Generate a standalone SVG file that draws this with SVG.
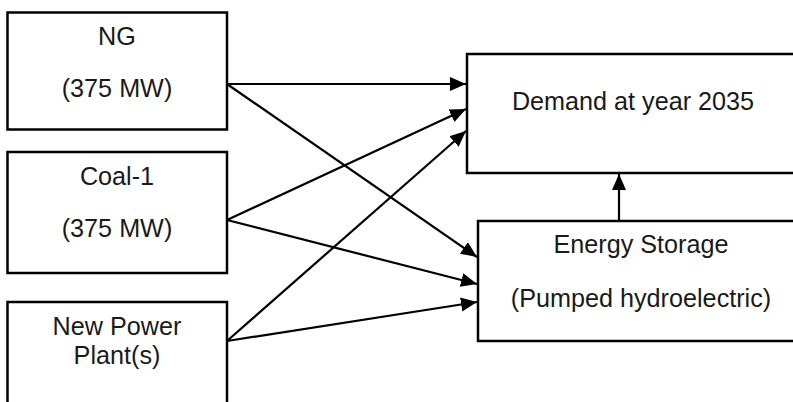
<svg xmlns="http://www.w3.org/2000/svg" width="793" height="402" viewBox="0 0 793 402">
<style>
.box{fill:#fff;stroke:#000;stroke-width:2.5}
.t{font-family:"Liberation Sans",Arial,sans-serif;font-size:25.2px;fill:#1a1a1a;text-anchor:middle}
.c{stroke:#000;stroke-width:2.2;fill:none;marker-end:url(#ah)}
</style>
<defs>
<marker id="ah" markerUnits="userSpaceOnUse" markerWidth="17" markerHeight="15" refX="16" refY="7" orient="auto">
<path d="M0,0 L16,7 L0,14 Z" fill="#000"/>
</marker>
</defs>
<rect width="793" height="402" fill="#fff"/>
<g id="ng">
<rect class="box" x="7.5" y="12.5" width="219.5" height="117"/>
<text class="t" x="117" y="45">NG</text>
<text class="t" x="117" y="97">(375 MW)</text>
</g>
<g id="coal1">
<rect class="box" x="7.5" y="152" width="219.5" height="121"/>
<text class="t" x="117" y="185">Coal-1</text>
<text class="t" x="117" y="237">(375 MW)</text>
</g>
<g id="newpower">
<rect class="box" x="7.5" y="302" width="219.5" height="130"/>
<text class="t" x="117" y="335">New Power</text>
<text class="t" x="117" y="364">Plant(s)</text>
</g>
<g id="demand">
<rect class="box" x="467" y="54" width="332" height="119"/>
<text class="t" x="633" y="110">Demand at year 2035</text>
</g>
<g id="storage">
<rect class="box" x="478" y="221" width="326" height="120"/>
<text class="t" x="641" y="253">Energy Storage</text>
<text class="t" x="641" y="307">(Pumped hydroelectric)</text>
</g>
<g id="connectors">
<line class="c" x1="227" y1="84" x2="466" y2="84"/>
<line class="c" x1="227" y1="84" x2="477" y2="257"/>
<line class="c" x1="227" y1="220" x2="466" y2="109"/>
<line class="c" x1="227" y1="220" x2="477" y2="284"/>
<line class="c" x1="227" y1="341" x2="466" y2="131"/>
<line class="c" x1="227" y1="341" x2="477" y2="302"/>
<line class="c" x1="619" y1="221" x2="619" y2="174"/>
</g>
</svg>
